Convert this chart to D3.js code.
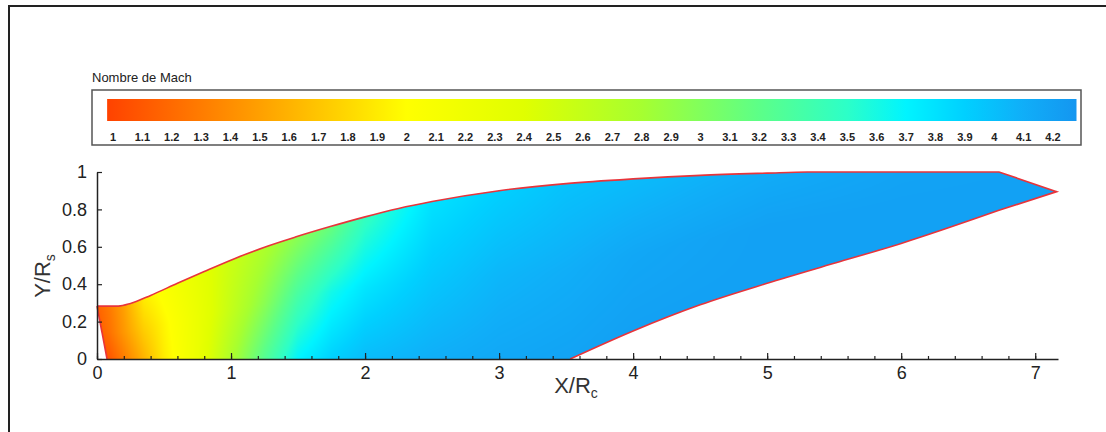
<!DOCTYPE html>
<html>
<head>
<meta charset="utf-8">
<script src="https://cdn.jsdelivr.net/npm/d3@7"></script>
<style>
    body { margin: 0; background: #ffffff; }
    #chart { width: 1106px; height: 432px; }
    text { font-family: "Liberation Sans Narrow", "Arial Narrow", "Liberation Sans", Arial, sans-serif; }
</style>
</head>
<body>
<div id="chart"></div>
<script>

// colour bar: Mach value -> colour
let mach_stops = [0.98, 1.2, 1.5, 1.8, 2.0, 2.4, 2.8, 3.2, 3.5, 3.7, 3.9, 4.1, 4.28];
let color_stops = ["#ff4200", "#ff6a00", "#ffa000", "#ffd800", "#ffff00", "#e0ff00", "#a6ff30",
                   "#5cff88", "#2cffc8", "#00f4ff", "#00d0ff", "#10aef8", "#1496f0"];
let mach_labels = ["1", "1.1", "1.2", "1.3", "1.4", "1.5", "1.6", "1.7", "1.8", "1.9", "2", "2.1", "2.2",
                   "2.3", "2.4", "2.5", "2.6", "2.7", "2.8", "2.9", "3", "3.1", "3.2", "3.3", "3.4", "3.5",
                   "3.6", "3.7", "3.8", "3.9", "4", "4.1", "4.2"];

// nozzle contour (X/Rc, Y/Rs)
let upper_wall_x = [0, 0.16, 0.25, 0.4, 0.6, 0.8, 1.03, 1.25, 1.48, 1.74, 2.0, 2.25, 2.5, 3.0, 3.5, 4.0, 4.5, 5.0, 5.3, 6.73];
let upper_wall_y = [0.283, 0.283, 0.297, 0.34, 0.405, 0.468, 0.538, 0.598, 0.652, 0.708, 0.76, 0.805, 0.842, 0.9, 0.938, 0.963, 0.982, 0.994, 1.0, 1.0];
let tip = [7.16, 0.895];
let lower_wall_x = [3.53, 4.0, 4.5, 5.0, 5.5, 6.0, 6.73];
let lower_wall_y = [0, 0.15, 0.29, 0.405, 0.512, 0.618, 0.795];
let inlet_x = [0, 0.075];
let inlet_y = [0.283, 0];

// Mach number read along the axis, half height and the wall
let field_x = [0, 0.1, 0.2, 0.35, 0.5, 0.75, 1.0, 1.25, 1.5, 1.75, 2.0, 2.5, 3.0, 3.5, 4.0, 5.0, 6.0, 7.2];
let mach_axis = [1.0, 1.1, 1.3, 1.6, 1.9, 2.25, 2.75, 3.25, 3.7, 3.9, 4.02, 4.1, 4.15, 4.18, 4.2, 4.2, 4.2, 4.2];
let mach_mid = [1.1, 1.25, 1.45, 1.75, 1.95, 2.25, 2.6, 2.95, 3.35, 3.62, 3.78, 3.95, 4.05, 4.1, 4.15, 4.2, 4.2, 4.2];
let mach_wall = [1.15, 1.3, 1.5, 1.9, 2.05, 2.3, 2.55, 2.75, 2.95, 3.15, 3.45, 3.8, 3.9, 3.98, 4.02, 4.12, 4.18, 4.2];

let x_ticks = [0, 1, 2, 3, 4, 5, 6, 7];
let y_ticks = [0, 0.2, 0.4, 0.6, 0.8, 1];

function draw_chart() {

    let svg = d3.select("#chart")
                .append("svg")
                .attr("width", 1106)
                .attr("height", 432);

    // outer frame (top and left only)
    svg.append("path")
        .attr("d", "M9,432 L9,6 L1106,6")
        .attr("fill", "none")
        .attr("stroke", "#222")
        .attr("stroke-width", 2);

    let color = d3.scaleLinear().domain(mach_stops).range(color_stops).clamp(true);

    // ---- colour bar ----
    let cb_scale = d3.scaleLinear().domain([1, 4.2]).range([113, 1053]);

    svg.append("text")
        .attr("x", 92)
        .attr("y", 82)
        .attr("font-size", 13)
        .attr("fill", "#222")
        .text("Nombre de Mach");

    svg.append("rect")
        .attr("x", 92)
        .attr("y", 90)
        .attr("width", 989)
        .attr("height", 55)
        .attr("fill", "white")
        .attr("stroke", "#555")
        .attr("stroke-width", 1.5);

    let grad = svg.append("defs")
                  .append("linearGradient")
                  .attr("id", "mach_grad")
                  .attr("x1", "0%").attr("x2", "100%")
                  .attr("y1", "0%").attr("y2", "0%");
    let cb_domain = [mach_stops[0], mach_stops[mach_stops.length - 1]];
    grad.selectAll("stop")
        .data(mach_stops)
        .enter()
        .append("stop")
        .attr("offset", function(d) { return ((d - cb_domain[0]) / (cb_domain[1] - cb_domain[0]) * 100) + "%"; })
        .attr("stop-color", function(d, i) { return color_stops[i]; });

    svg.append("rect")
        .attr("x", cb_scale(cb_domain[0]))
        .attr("y", 99)
        .attr("width", cb_scale(cb_domain[1]) - cb_scale(cb_domain[0]))
        .attr("height", 22)
        .attr("fill", "url(#mach_grad)");

    svg.selectAll(".cb_label")
        .data(mach_labels)
        .enter()
        .append("text")
        .attr("class", "cb_label")
        .attr("x", function(d) { return cb_scale(+d); })
        .attr("y", 141)
        .attr("text-anchor", "middle")
        .attr("font-size", 11)
        .attr("font-weight", "bold")
        .attr("fill", "#222")
        .text(function(d) { return d; });

    // ---- nozzle plot ----
    let x = d3.scaleLinear().domain([0, 7.17]).range([97, 1058]);
    let y = d3.scaleLinear().domain([0, 1]).range([359, 172]);

    let upper = d3.scaleLinear().domain(upper_wall_x.concat([tip[0]])).range(upper_wall_y.concat([tip[1]]));
    let lower = d3.scaleLinear().domain(lower_wall_x.concat([tip[0]])).range(lower_wall_y.concat([tip[1]])).clamp(true);
    let m_axis = d3.scaleLinear().domain(field_x).range(mach_axis).clamp(true);
    let m_mid = d3.scaleLinear().domain(field_x).range(mach_mid).clamp(true);
    let m_wall = d3.scaleLinear().domain(field_x).range(mach_wall).clamp(true);

    // paint the field on a canvas, then clip it with the contour
    let w = Math.round(x.range()[1] - x.range()[0]);
    let h = Math.round(y.range()[0] - y.range()[1]);
    let canvas = document.createElement("canvas");
    canvas.width = w;
    canvas.height = h;
    let ctx = canvas.getContext("2d");
    let img = ctx.createImageData(w, h);
    for (let j = 0; j < h; j++) {
        let yy = y.invert(y.range()[1] + j + 0.5);
        for (let i = 0; i < w; i++) {
            let xx = x.invert(x.range()[0] + i + 0.5);
            let y_lo = xx < lower_wall_x[0] ? 0 : lower(xx);
            let y_hi = upper(Math.min(xx, tip[0]));
            let eta = (yy - y_lo) / Math.max(y_hi - y_lo, 0.01);
            eta = Math.max(0, Math.min(1, eta));
            let m;
            if (eta < 0.5) {
                m = m_axis(xx) + (m_mid(xx) - m_axis(xx)) * eta * 2;
            }
            else {
                m = m_mid(xx) + (m_wall(xx) - m_mid(xx)) * (eta - 0.5) * 2;
            }
            let c = d3.rgb(color(m));
            let k = (j * w + i) * 4;
            img.data[k] = c.r;
            img.data[k + 1] = c.g;
            img.data[k + 2] = c.b;
            img.data[k + 3] = 255;
        }
    }
    ctx.putImageData(img, 0, 0);

    // smooth wall curves
    let upper_pts = upper_wall_x.map(function(d, i) { return [d, upper_wall_y[i]]; });
    let lower_pts = lower_wall_x.map(function(d, i) { return [d, lower_wall_y[i]]; });
    let smooth = d3.line().curve(d3.curveMonotoneX)
                   .x(function(d) { return x(d[0]); }).y(function(d) { return y(d[1]); });
    let straight = d3.line().x(function(d) { return x(d[0]); }).y(function(d) { return y(d[1]); });

    let upper_path = smooth(upper_pts);
    let tip_path = straight([upper_pts[upper_pts.length - 1], tip, lower_pts[lower_pts.length - 1]]).replace(/^M[^L]*/, "");
    let lower_path = smooth(lower_pts.slice().reverse()).replace(/^M/, "L");
    let wall_path = upper_path + tip_path + lower_path;

    svg.append("clipPath")
        .attr("id", "nozzle_clip")
        .append("path")
        .attr("d", wall_path + "L" + x(inlet_x[1]) + "," + y(inlet_y[1]) + "Z");

    svg.append("image")
        .attr("x", x.range()[0])
        .attr("y", y.range()[1])
        .attr("width", w)
        .attr("height", h)
        .attr("preserveAspectRatio", "none")
        .attr("href", canvas.toDataURL())
        .attr("clip-path", "url(#nozzle_clip)");

    // red wall lines
    svg.append("path")
        .attr("d", wall_path)
        .attr("fill", "none")
        .attr("stroke", "#e8343a")
        .attr("stroke-width", 1.6);
    svg.append("path")
        .attr("d", straight([[inlet_x[0], inlet_y[0]], [inlet_x[1], inlet_y[1]]]))
        .attr("fill", "none")
        .attr("stroke", "#e8343a")
        .attr("stroke-width", 1.6);

    // axes
    let x_axis = svg.append("g")
        .attr("transform", "translate(0," + y(0) + ")");
    x_axis.call(d3.axisBottom(x).tickValues(d3.range(0, 7.1, 0.2)).tickSize(-3).tickFormat(""));
    x_axis.call(function(g) { g.select(".domain").remove(); });
    let x_axis_major = svg.append("g")
        .attr("transform", "translate(0," + y(0) + ")");
    x_axis_major.call(d3.axisBottom(x).tickValues(x_ticks).tickSizeInner(-6).tickSizeOuter(0).tickPadding(7)
                        .tickFormat(function(d) { return d; }));

    let y_axis = svg.append("g")
        .attr("transform", "translate(" + x(0) + ",0)");
    y_axis.call(d3.axisLeft(y).tickValues(y_ticks).tickSizeInner(-5).tickSizeOuter(0).tickPadding(10)
                  .tickFormat(function(d) { return d; }));

    svg.selectAll(".domain").attr("stroke", "#222").attr("stroke-width", 1.5);
    svg.selectAll(".tick line").attr("stroke", "#222").attr("stroke-width", 1.2);
    svg.selectAll(".tick text")
        .attr("font-size", 18)
        .attr("fill", "#222")
        .attr("font-family", "\"Liberation Sans Narrow\", \"Arial Narrow\", \"Liberation Sans\", Arial, sans-serif");

    // axis titles
    let xt = svg.append("text")
        .attr("x", 576)
        .attr("y", 393)
        .attr("text-anchor", "middle")
        .attr("font-size", 22)
        .attr("fill", "#333");
    xt.append("tspan").text("X/R");
    xt.append("tspan").attr("font-size", 14).attr("dy", 5).text("c");

    let yt = svg.append("text")
        .attr("transform", "translate(50,276) rotate(-90)")
        .attr("text-anchor", "middle")
        .attr("font-size", 22)
        .attr("fill", "#333");
    yt.append("tspan").text("Y/R");
    yt.append("tspan").attr("font-size", 14).attr("dy", 5).text("s");
}

draw_chart();

</script>
</body>
</html>
